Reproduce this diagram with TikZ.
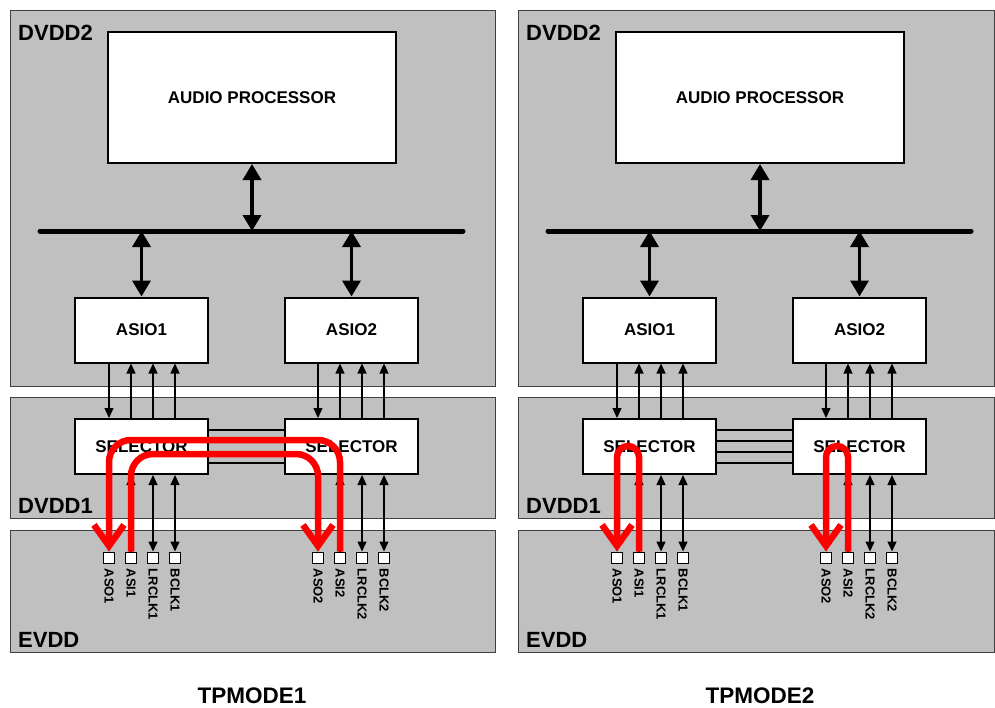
\documentclass[tikz,border=0pt]{standalone}
\usepackage{fontspec}
\setmainfont{Liberation Sans}
\usetikzlibrary{arrows.meta}
\definecolor{regiongray}{RGB}{192,192,192}
\tikzset{>=Stealth,every node/.style={font=\bfseries},region/.style={fill=regiongray,draw=black!75,line width=1pt},
blk/.style={draw,fill=white,line width=2pt,inner sep=0pt,font=\fontsize{17}{20}\selectfont\bfseries},
rlabel/.style={anchor=base west,inner sep=0pt,font=\fontsize{22}{26}\selectfont\bfseries},
bus/.style={line width=5pt,line cap=round},
bigarrow/.style={line width=3.5pt,{Triangle[length=16pt,width=18pt]}-{Triangle[length=16pt,width=18pt]}},
sig/.style={line width=1.3pt,>={Triangle[length=10pt,width=9pt]}},
pinbox/.style={draw,fill=white,line width=1pt,minimum size=11pt,inner sep=0pt},
pinlabel/.style={rotate=-90,anchor=west,inner sep=0pt,font=\fontsize{13}{15}\selectfont\bfseries},
redflow/.style={draw=red,line width=6.5pt,-{Straight Barb[length=21pt,width=30pt]}}}

\begin{document}
\begin{tikzpicture}[x=1pt,y=-1pt]
\useasboundingbox (0,0) rectangle (995,707);
\foreach \dx/\p/\xr/\m in {0/L/495/1,508/R/486/2}{
\begin{scope}[shift={(\dx,0)}]
\draw[region] (10,10) rectangle (\xr,386);\draw[region] (10,397) rectangle (\xr,518);\draw[region] (10,530) rectangle (\xr,652);
\node[rlabel] (dvddtwo\p) at (18,40) {DVDD2};\node[rlabel] (dvddone\p) at (18,513) {DVDD1};\node[rlabel] (evdd\p) at (18,647) {EVDD};
\node[blk,minimum width=288pt,minimum height=131pt] (proc\p) at (252,97.5) {AUDIO PROCESSOR};
\coordinate (busW\p) at (40,231);\coordinate (busE\p) at (463,231);
\draw[bus] (busW\p) -- (busE\p);
\draw[bigarrow] (proc\p.south) -- (proc\p.south |- busW\p);
\foreach \s/\xa/\xs in {1/141.5/109,2/351.5/318}{
 \node[blk,minimum width=133pt,minimum height=65pt] (asio\s\p) at (\xa,330) {ASIO\s};
 \node[blk,minimum width=133pt,minimum height=55pt] (sel\s\p) at (\xa,446.5) {SELECTOR};
 \draw[bigarrow] (asio\s\p.north) -- (asio\s\p.north |- busW\p);
 \foreach \n/\k/\b/\a in {ASO/0/->/->,ASI/1/<-/<-,LRCLK/2/<-/<->,BCLK/3/<-/<->}{
  \node[pinbox] (\n\s\p) at ({\xs+22*\k},557.5) {};
  \node[pinlabel] at ([yshift=-5pt]\n\s\p.south) {\n\s};
  \draw[sig,\b] (asio\s\p.south -| \n\s\p) -- (sel\s\p.north -| \n\s\p);
  \draw[sig,\a] (sel\s\p.south -| \n\s\p) -- (\n\s\p.north);
 }
}
\foreach \yy in {430,441,452,463} \draw[line width=1.3pt] (sel1\p.east |- 0,\yy) -- (sel2\p.west |- 0,\yy);
\node[anchor=base,font=\fontsize{22.5}{27}\selectfont\bfseries] (mode\p) at (252,703) {TPMODE\m};
\end{scope}
}
\coordinate (hiL) at (0,440);\coordinate (loL) at (0,454);\coordinate (topR) at (0,446);
\draw[redflow,rounded corners=22pt] (ASI2L.north) -- (ASI2L.north |- hiL) -- (ASO1L.north |- hiL) -- (ASO1L.north);
\draw[redflow,rounded corners=22pt] (ASI1L.north) -- (ASI1L.north |- loL) -- (ASO2L.north |- loL) -- (ASO2L.north);
\draw[redflow,rounded corners=11pt] (ASI1R.north) -- (ASI1R.north |- topR) -- (ASO1R.north |- topR) -- (ASO1R.north);
\draw[redflow,rounded corners=11pt] (ASI2R.north) -- (ASI2R.north |- topR) -- (ASO2R.north |- topR) -- (ASO2R.north);
\end{tikzpicture}
\end{document}
